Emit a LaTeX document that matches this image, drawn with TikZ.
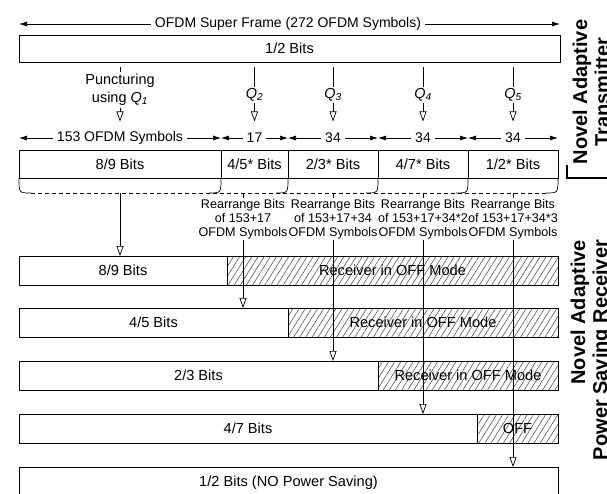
\documentclass[tikz,border=0pt]{standalone}
\usepackage{fontspec}
\setmainfont{Liberation Sans}
\usetikzlibrary{arrows.meta,patterns.meta,calc}
\begin{document}
\begin{tikzpicture}[x=1pt,y=-1pt,
  every node/.style={inner sep=0pt,outer sep=0pt},
  bx/.style={draw,line width=0.8pt,fill=white,anchor=north west,minimum height=#1,font=\fontsize{14.6}{16}\selectfont},
  hx/.style={draw,line width=0.8pt,anchor=north west,minimum height=#1,
     pattern={Lines[angle=58,distance=5.2pt,line width=0.55pt]},pattern color=black!70,
     font=\fontsize{14.6}{16}\selectfont},
  lb/.style={font=\fontsize{14.5}{18}\selectfont,align=center,inner sep=2pt},
  sl/.style={font=\fontsize{14}{16}\selectfont,inner sep=4pt},
  rl/.style={font=\fontsize{12.6}{14}\selectfont,align=center,inner sep=1.5pt},
  rt/.style={font=\fontsize{20}{22}\selectfont\bfseries,rotate=90},
  sa/.style={-{Latex[length=8pt,width=5pt]},line width=0.7pt},
  oa/.style={-{Triangle[open,length=10pt,width=7pt]},line width=0.7pt},
  ln/.style={line width=0.7pt},
]
\useasboundingbox (0,0) rectangle (607,493);

% ---- transmitter ----
\node[sl] (ti) at (288,24) {OFDM Super Frame (272 OFDM Symbols)};
\node[bx=27pt,minimum width=541pt] (tb) at (19,35) {1/2 Bits};
\draw[sa] (ti.west) -- (ti.west -| tb.west);
\draw[sa] (ti.east) -- (ti.east -| tb.east);

\node[bx=28pt,minimum width=202pt] (t1) at (19,150) {8/9 Bits};
\node[bx=28pt,minimum width=67pt] (t2) at (221,150) {4/5* Bits};
\node[bx=28pt,minimum width=90pt] (t3) at (288,150) {2/3* Bits};
\node[bx=28pt,minimum width=90pt] (t4) at (378,150) {4/7* Bits};
\node[bx=28pt,minimum width=90pt] (t5) at (468,150) {1/2* Bits};

% span arrows
\node[sl] (s1) at (120,138) {153 OFDM Symbols};
\node[sl] (s2) at (254.5,138) {17};
\node[sl] (s3) at (333,138) {34};
\node[sl] (s4) at (423,138) {34};
\node[sl] (s5) at (513,138) {34};
\foreach \s/\t in {s1/t1,s2/t2,s3/t3,s4/t4,s5/t5}{
  \draw[sa] (\s.west) -- (\s.west -| \t.west);
  \draw[sa] (\s.east) -- (\s.east -| \t.east);
}

% puncturing arrows
\node[lb] (q1) at (120,90) {Puncturing\\using \textit{Q}\textsubscript{\textit{1}}};
\node[lb] (q2) at (254.5,95) {\textit{Q}\textsubscript{\textit{2}}};
\node[lb] (q3) at (333,95) {\textit{Q}\textsubscript{\textit{3}}};
\node[lb] (q4) at (423,95) {\textit{Q}\textsubscript{\textit{4}}};
\node[lb] (q5) at (513,95) {\textit{Q}\textsubscript{\textit{5}}};
\foreach \q in {q1,q2,q3,q4,q5}{
  \coordinate (\q a) at ($(tb.south -| \q)+(0,5)$);
  \coordinate (\q b) at ($(s1.north -| \q)+(0,-6)$);
  \draw[ln] (\q a) -- (\q.north);
  \draw[oa] (\q.south) -- (\q b);
}

% dashed brace
\draw[ln] (t1.south west) .. controls +(0,15) .. +(12,15);
\foreach \t in {t1,t2,t3,t4,t5}{
  \draw[ln] (\t.south east) .. controls +(0,15) .. +(-12,15);
}
\draw[ln,dash pattern=on 4pt off 3pt] ($(t1.south west)+(12,15)$) -- ($(t5.south east)+(-12,15)$);

% ---- receiver rows ----
\node[bx=29pt,minimum width=208pt] (r1w) at (19,256) {8/9 Bits};
\node[hx=29pt,minimum width=331pt] (r1h) at (227,256) {Receiver in OFF Mode};
\node[bx=29pt,minimum width=269pt] (r2w) at (19,308) {4/5 Bits};
\node[hx=29pt,minimum width=270pt] (r2h) at (288,308) {Receiver in OFF Mode};
\node[bx=29pt,minimum width=359pt] (r3w) at (19,361) {2/3 Bits};
\node[hx=29pt,minimum width=180pt] (r3h) at (378,361) {Receiver in OFF Mode};
\node[bx=29pt,minimum width=458pt] (r4w) at (19,414) {4/7 Bits};
\node[hx=29pt,minimum width=81pt] (r4h) at (477,414) {OFF};
\node[bx=32pt,minimum width=539pt] (r5) at (19,467) {\raisebox{3pt}{1/2 Bits (NO Power Saving)}};

% rearrange labels
\node[rl] (a2) at (243,219) {Rearrange Bits\\of 153+17\\OFDM Symbols};
\node[rl] (a3) at (333,219) {Rearrange Bits\\of 153+17+34\\OFDM Symbols};
\node[rl] (a4) at (423,219) {Rearrange Bits\\of 153+17+34*2\\OFDM Symbols};
\node[rl] (a5) at (513,219) {Rearrange Bits\\of 153+17+34*3\\OFDM Symbols};

\coordinate (b1) at ($(t1.south -| q1)+(0,15)$);
\draw[oa] (b1) -- (b1 |- r1w.north);
\foreach \a/\r in {a2/r2w,a3/r3w,a4/r4w,a5/r5}{
  \coordinate (\a s) at ($(t1.south -| \a)+(0,15)$);
  \draw[ln] (\a s) -- (\a.north);
  \draw[oa] (\a.south) -- (\a.south |- \r.north);
}

% ---- side titles ----
\node[rt,align=center] (tx) at (591,92) {Novel Adaptive\\Transmitter};
\node[rt,align=right,anchor=east] (rx) at (591,240) {Novel Adaptive\\Power Saving Receiver};
\draw[line width=1.8pt] (567,165) -- (567,178) -- (607,178);
\end{tikzpicture}
\end{document}
